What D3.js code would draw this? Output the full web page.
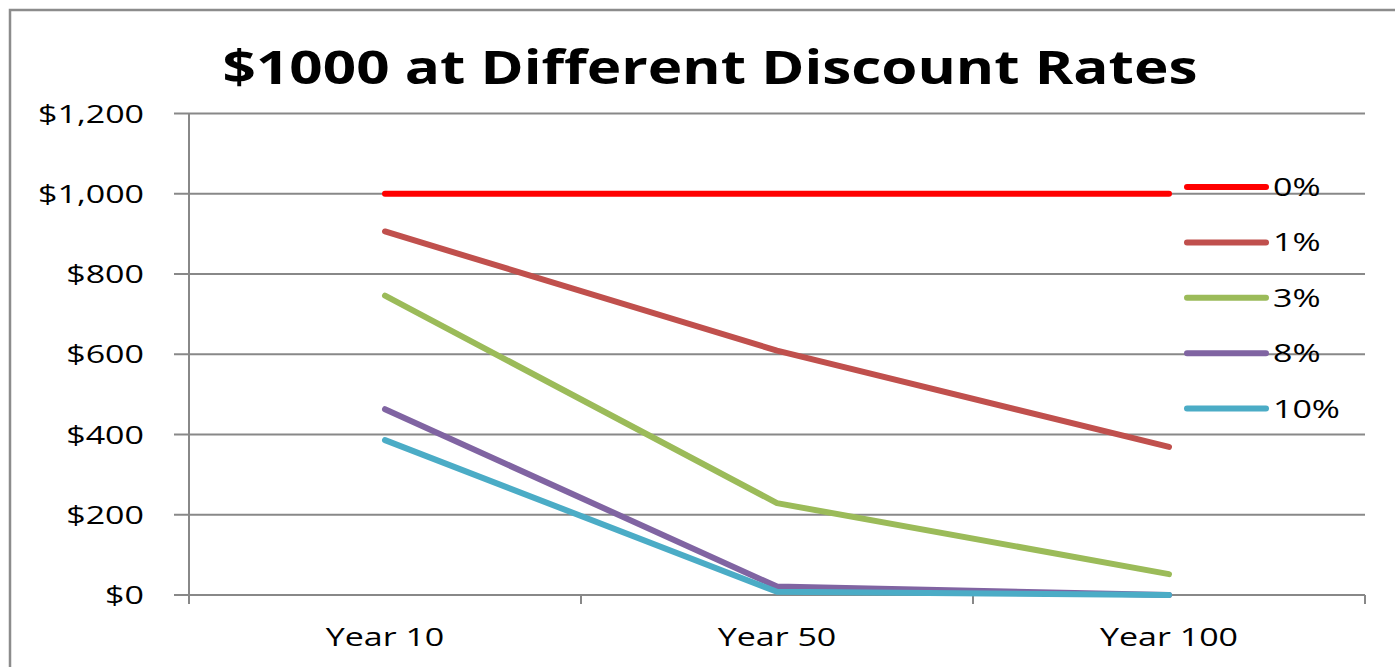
<!DOCTYPE html>
<html>
<head>
<meta charset="utf-8">
<script src="https://cdn.jsdelivr.net/npm/d3@7"></script>
<style>
  body { margin: 0; background: #fff; }
  text { font-family: "Open Sans", sans-serif; fill: #000; }
</style>
</head>
<body>
<div id="chart"></div>
<script>
const width = 1395;
const height = 667;

// data
const categories = ["Year 10", "Year 50", "Year 100"];
const rates = ["0%", "1%", "3%", "8%", "10%"];
const rate0 = [1000, 1000, 1000];
const rate1 = [906, 609, 369];
const rate3 = [746, 229, 52];
const rate8 = [463, 21, 0];
const rate10 = [386, 8, 0];
const yTicks = [0, 200, 400, 600, 800, 1000, 1200];
const colors = ["#ff0000", "#c0504d", "#9bbb59", "#8064a2", "#4bacc6"];

const seriesValues = [rate0, rate1, rate3, rate8, rate10];
const series = rates.map((r, i) => ({ name: r, color: colors[i], values: seriesValues[i] }));

const plot = { left: 189, right: 1365, top: 113.5, bottom: 595 };
const sx = 1.36; // text in the original is stretched sideways

const svg = d3.select("#chart")
  .append("svg")
  .attr("width", width)
  .attr("height", height);

// outer frame
svg.append("rect")
  .attr("x", 10).attr("y", 10)
  .attr("width", width + 20).attr("height", height + 20)
  .attr("fill", "none")
  .attr("stroke", "#8c8c8c")
  .attr("stroke-width", 2.5);

const x = d3.scaleBand()
  .domain(categories)
  .range([plot.left, plot.right])
  .padding(0);

const y = d3.scaleLinear()
  .domain([0, 1200])
  .range([plot.bottom, plot.top]);

// helper for stretched text
function stretchedText(g, tx, ty, str, size, anchor, weight, scaleX) {
  const t = g.append("g")
    .attr("transform", "translate(" + tx + "," + ty + ") scale(" + (scaleX || sx) + ",1)")
    .append("text")
    .attr("font-size", size)
    .attr("text-anchor", anchor)
    .text(str);
  if (weight) t.attr("font-weight", weight);
  return t;
}

// gridlines
svg.append("g")
  .selectAll("line")
  .data(yTicks)
  .enter()
  .append("line")
  .attr("x1", plot.left - 15)
  .attr("x2", plot.right)
  .attr("y1", d => y(d))
  .attr("y2", d => y(d))
  .attr("stroke", "#888")
  .attr("stroke-width", 2);

// y axis line
svg.append("line")
  .attr("x1", plot.left).attr("x2", plot.left)
  .attr("y1", plot.top).attr("y2", plot.bottom + 9)
  .attr("stroke", "#888")
  .attr("stroke-width", 2);

// x axis tick marks at band edges
const edges = categories.map(c => x(c)).concat([plot.right]);
svg.append("g")
  .selectAll("line")
  .data(edges.slice(1))
  .enter()
  .append("line")
  .attr("x1", d => d).attr("x2", d => d)
  .attr("y1", plot.bottom).attr("y2", plot.bottom + 9)
  .attr("stroke", "#888")
  .attr("stroke-width", 2);

// y tick labels
const fmt = d3.format("$,");
const yLabels = svg.append("g");
yTicks.forEach(t => {
  stretchedText(yLabels, 144, y(t), fmt(t), 25, "end")
    .attr("dy", "0.36em");
});

// x labels
const xLabels = svg.append("g");
categories.forEach(c => {
  stretchedText(xLabels, x(c) + x.bandwidth() / 2, 646, c, 25, "middle");
});

// title
stretchedText(svg, 710, 84, "$1000 at Different Discount Rates", 46, "middle", "bold", 1.27);

// series lines
const line = d3.line()
  .x((d, i) => x(categories[i]) + x.bandwidth() / 2)
  .y(d => y(d));

svg.append("g")
  .selectAll("path")
  .data(series)
  .enter()
  .append("path")
  .attr("d", d => line(d.values))
  .attr("fill", "none")
  .attr("stroke", d => d.color)
  .attr("stroke-width", 6)
  .attr("stroke-linecap", "round")
  .attr("stroke-linejoin", "round");

// legend
const legend = svg.append("g");
series.forEach((s, i) => {
  const ly = 187 + i * 55.4;
  legend.append("line")
    .attr("x1", 1187).attr("x2", 1266)
    .attr("y1", ly).attr("y2", ly)
    .attr("stroke", s.color)
    .attr("stroke-width", 6)
    .attr("stroke-linecap", "round");
  stretchedText(legend, 1273, ly, s.name, 25, "start").attr("dy", "0.36em");
});
</script>
</body>
</html>
